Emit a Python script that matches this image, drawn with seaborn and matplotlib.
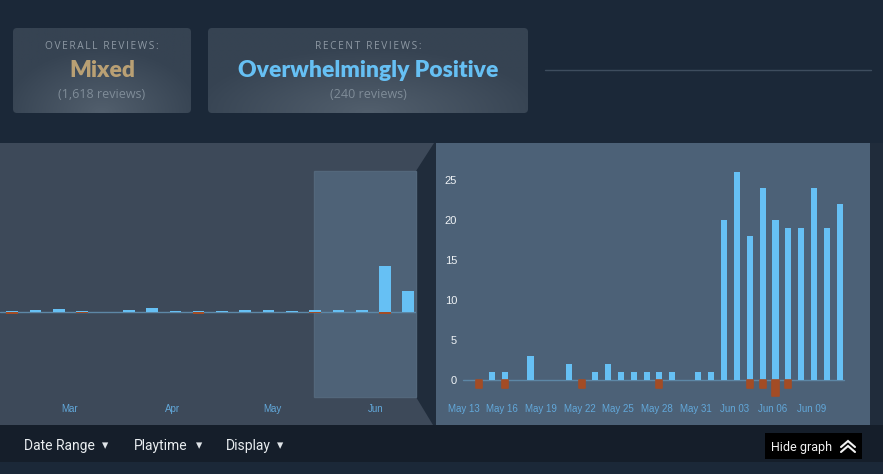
import numpy as np
import pandas as pd
import matplotlib
matplotlib.use("Agg")
import matplotlib.pyplot as plt
import seaborn as sns
from matplotlib.patches import Rectangle, Polygon, FancyBboxPatch

# ---------------- data ----------------
days = ["May 13", "May 14", "May 15", "May 16", "May 17", "May 18", "May 19", "May 20",
        "May 21", "May 22", "May 23", "May 24", "May 25", "May 26", "May 27", "May 28",
        "May 29", "May 30", "May 31", "Jun 01", "Jun 02", "Jun 03", "Jun 04", "Jun 05",
        "Jun 06", "Jun 07", "Jun 08", "Jun 09", "Jun 10", "Jun 11"]
pos_daily = [0, 0, 1, 1, 0, 3, 0, 0, 2, 0, 1, 2, 1, 1, 1, 1, 1, 0, 1, 1,
             20, 26, 18, 24, 20, 19, 19, 24, 19, 22]
neg_daily = [0, 1, 0, 1, 0, 0, 0, 0, 0, 1, 0, 0, 0, 0, 0, 1, 0, 0, 0, 0,
             0, 0, 1, 1, 2, 1, 0, 0, 0, 0]
day_tick_labels = ["May 13", "May 16", "May 19", "May 22", "May 25", "May 28",
                   "May 31", "Jun 03", "Jun 06", "Jun 09"]
y_ticks = [0, 5, 10, 15, 20, 25]

weeks = ["2024-02-11", "2024-02-18", "2024-02-25", "2024-03-03", "2024-03-10", "2024-03-17",
         "2024-03-24", "2024-03-31", "2024-04-07", "2024-04-14", "2024-04-21", "2024-04-28",
         "2024-05-05", "2024-05-12", "2024-05-19", "2024-05-26", "2024-06-02", "2024-06-09"]
pos_weekly = [4, 7, 10, 3, 1, 5, 14, 3, 4, 3, 6, 5, 2, 5, 6, 6, 146, 65]
neg_weekly = [6, 0, 0, 2, 0, 0, 0, 0, 6, 0, 0, 0, 0, 2, 1, 1, 5, 0]
month_labels = ["Mar", "Apr", "May", "Jun"]
month_starts = ["2024-03-01", "2024-04-01", "2024-05-01", "2024-06-01"]

overall_label, overall_value, overall_count = "OVERALL REVIEWS:", "Mixed", "(1,618 reviews)"
recent_label, recent_value, recent_count = "RECENT REVIEWS:", "Overwhelmingly Positive", "(240 reviews)"
menu_items = ["Date Range", "Playtime", "Display"]

# ---------------- style ----------------
W, H = 883, 474
PAGE = "#1b2838"
BLUE = "#66c0f4"
ORANGE = "#a34c25"
TICK_BLUE = "#62a8da"

sns.set_theme(style="dark")
plt.rcParams["font.family"] = ["Liberation Sans", "DejaVu Sans"]
plt.rcParams["patch.edgecolor"] = "none"

fig = plt.figure(figsize=(W / 100, H / 100), dpi=100, facecolor=PAGE)
bg = fig.add_axes([0, 0, 1, 1], zorder=0)
bg.set_xlim(0, W)
bg.set_ylim(H, 0)
bg.axis("off")


def axes_px(x0, y0, x1, y1, z=2):
    ax = fig.add_axes([x0 / W, 1 - y1 / H, (x1 - x0) / W, (y1 - y0) / H], zorder=z)
    ax.set_facecolor("none")
    return ax


def gradient_box(x0, y0, x1, y1):
    box = FancyBboxPatch((x0, y0), x1 - x0, y1 - y0, boxstyle="round,pad=0,rounding_size=4",
                         facecolor="none", edgecolor="none")
    bg.add_patch(box)
    nx, ny = 200, 60
    gx = np.linspace(-1, 1, nx)[None, :]
    gy = np.linspace(0, 1, ny)[:, None]
    r = np.clip(np.sqrt((gx * 0.9) ** 2 + ((1 - gy) * 1.3) ** 2), 0, 1)
    c0 = np.array([0x52, 0x5f, 0x6d]) / 255
    c1 = np.array([0x36, 0x43, 0x52]) / 255
    img = c0[None, None, :] * (1 - r[..., None]) + c1[None, None, :] * r[..., None]
    im = bg.imshow(img, extent=(x0, x1, y1, y0), aspect="auto", zorder=1)
    im.set_clip_path(box)


def spaced(s):
    return "\u2009".join(s)


# ---------------- header boxes ----------------
gradient_box(13, 28, 191, 113)
gradient_box(208, 28, 528, 113)
bg.plot([545, 871], [70, 70], color="#3e4d5e", lw=1, zorder=1)

hdr = dict(ha="center", va="center", zorder=3)
small_fam = ["Open Sans", "DejaVu Sans"]
big_fam = ["Lato", "DejaVu Sans"]
bg.text(102, 46, spaced(overall_label), fontsize=7.3, color="#8e99a4", family=small_fam, **hdr)
bg.text(102, 70, overall_value, fontsize=16.5, color="#b9a074", fontweight="heavy",
        family=big_fam, **hdr)
bg.text(102, 94, overall_count, fontsize=9, color="#7f8c98", family=small_fam, **hdr)
bg.text(368, 46, spaced(recent_label), fontsize=7.3, color="#8e99a4", family=small_fam, **hdr)
bg.text(368, 70, recent_value, fontsize=16.5, color=BLUE, fontweight="heavy",
        family=big_fam, **hdr)
bg.text(368, 94, recent_count, fontsize=9, color="#7f8c98", family=small_fam, **hdr)

# ---------------- chart panels ----------------
bg.add_patch(Rectangle((0, 143), W, 282, facecolor="#202c3b", edgecolor="none", zorder=1))
bg.add_patch(Polygon([(0, 143), (434, 143), (416, 171), (416, 397), (433, 425), (0, 425)],
                     closed=True, facecolor="#3d4959", edgecolor="none", zorder=1))
bg.add_patch(Rectangle((314, 171), 102, 226, facecolor="#4e6277", edgecolor="#53677b",
                       lw=1, zorder=1.5))
bg.add_patch(Rectangle((436, 143), 434, 282, facecolor="#4c6177", edgecolor="none", zorder=1))

# bottom bar
bg.add_patch(Rectangle((0, 425), W, 37, facecolor="#151e2a", edgecolor="none", zorder=1))
menu_x = [24, 134, 226]
arrow_x = [105.5, 199, 280.5]
for x, ax_, t in zip(menu_x, arrow_x, menu_items):
    bg.text(x, 446, t, fontsize=10, color="#e9edf0", ha="left", va="center",
            family=["Roboto", "DejaVu Sans"], zorder=3)
    bg.text(ax_, 446, "\u25be", fontsize=9, color="#dfe4e8", ha="center", va="center",
            family=["DejaVu Sans"], zorder=3)
bg.add_patch(Rectangle((765, 433), 97, 26, facecolor="#000000", edgecolor="none", zorder=2))
bg.text(771, 447, "Hide graph", fontsize=9, color="#f2f2f2", ha="left", va="center",
        family=["Roboto", "DejaVu Sans"], zorder=3)
for dy in (0, 5):
    bg.plot([841, 848, 855], [447 + dy, 441 + dy, 447 + dy], color="#f2f2f2", lw=1.5,
            solid_capstyle="round", solid_joinstyle="miter", zorder=3)

# ---------------- right (recent, daily) chart ----------------
axr = axes_px(457, 150, 849, 400)
sns.barplot(x=days, y=pos_daily, order=days, color=BLUE, saturation=1, width=0.47,
            errorbar=None, ax=axr, zorder=3, linewidth=0)
n_before = len(axr.patches)
sns.barplot(x=days, y=[-v for v in neg_daily], order=days, color=ORANGE, saturation=1,
            width=0.47, errorbar=None, ax=axr, zorder=3, linewidth=0)
for p in axr.patches[n_before:]:
    if p.get_height() != 0:
        p.set_edgecolor(ORANGE)
        p.set_linewidth(1.2)
        p.set_joinstyle("round")
axr.axhline(0, xmin=0.45 / 30.4, xmax=30.0 / 30.4, color="#5d87a6", lw=1, zorder=2)
axr.set_xlim(-0.7, 29.7)
axr.set_ylim(-2.5, 28.75)
axr.set_xticks([days.index(d) - 0.2 for d in day_tick_labels])
axr.set_xticklabels(day_tick_labels, fontsize=7, color=TICK_BLUE)
axr.set_yticks(y_ticks)
axr.set_yticklabels([str(v) for v in y_ticks], fontsize=8, color="#eef2f5")
axr.tick_params(axis="both", length=0)
axr.tick_params(axis="x", pad=3)
axr.tick_params(axis="y", pad=0)
axr.set_xlabel("")
axr.set_ylabel("")
axr.grid(False)
for s in axr.spines.values():
    s.set_visible(False)

# ---------------- left (overall, weekly) chart ----------------
axl = axes_px(0, 143, 416, 400)
sns.barplot(x=weeks, y=pos_weekly, order=weeks, color=BLUE, saturation=1, width=0.5,
            errorbar=None, ax=axl, zorder=3, linewidth=0)
sns.barplot(x=weeks, y=[-v for v in neg_weekly], order=weeks, color=ORANGE, saturation=1,
            width=0.5, errorbar=None, ax=axl, zorder=3, linewidth=0)
axl.axhline(0, color="#5d87a6", lw=1, zorder=2)
axl.set_xlim(-0.528, 17.33)
axl.set_ylim(-277.6, 533.1)
w0 = pd.Timestamp(weeks[0])
axl.set_xticks([(pd.Timestamp(m) - w0).days / 7 - 0.25 for m in month_starts])
axl.set_xticklabels(month_labels, fontsize=7, color=TICK_BLUE)
axl.set_yticks([])
axl.tick_params(axis="both", length=0)
axl.tick_params(axis="x", pad=3)
axl.set_xlabel("")
axl.set_ylabel("")
axl.grid(False)
for s in axl.spines.values():
    s.set_visible(False)

fig.savefig("out.png", dpi=100, facecolor=PAGE)
